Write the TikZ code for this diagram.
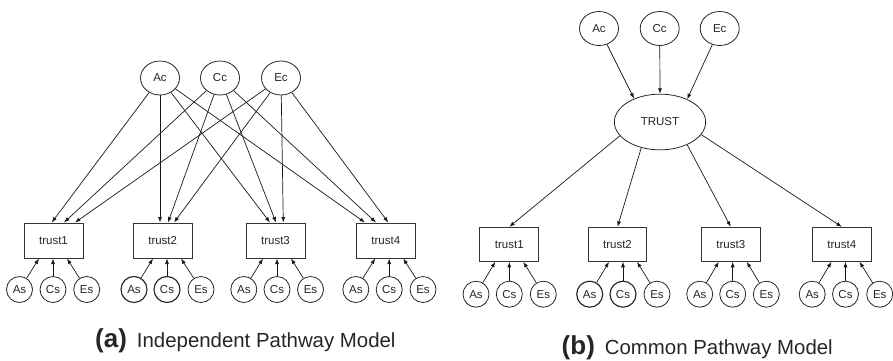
\documentclass[tikz,border=0pt]{standalone}
\usepackage{fontspec}
\setmainfont{Liberation Sans}
\usetikzlibrary{shapes.geometric,arrows.meta,calc}
\begin{document}
\begin{tikzpicture}[x=1pt,y=-1pt,
  every node/.style={font=\fontsize{11.5}{13}\selectfont, inner sep=0pt, text=black!85},
  lat/.style={draw=black!85, ellipse, line width=0.8pt, minimum width=39pt, minimum height=34pt},
  obs/.style={draw=black!80, rectangle, line width=1pt, minimum width=59pt, minimum height=35pt},
  res/.style={draw=black!85, circle, line width=0.8pt, minimum size=26pt},
  resb/.style={res, line width=1.15pt},
  edge/.style={draw=black!90, line width=0.7pt, -{Latex[length=5.5pt,width=4pt]}},
  captext/.style={anchor=base west, font=\fontsize{20.4}{24}\selectfont},
]
\useasboundingbox (0,0) rectangle (893,360);

% ---------- (a) independent pathway model ----------
\node[lat] (LAc) at (160,78) {Ac};
\node[lat] (LCc) at (220,78) {Cc};
\node[lat] (LEc) at (281,78) {Ec};

\node[obs] (L1) at (53.5,240.5) {trust1};
\node[obs] (L2) at (162.7,240.5) {trust2};
\node[obs] (L3) at (275.5,240.5) {trust3};
\node[obs] (L4) at (385.8,240.5) {trust4};

\draw[edge] (LAc) -- ([xshift=-1.8pt]L1.north);
\draw[edge] (LCc) -- ([xshift=10.5pt]L1.north);
\draw[edge] (LEc) -- ([xshift=21.5pt]L1.north);
\draw[edge] (LAc) -- ([xshift=-2.7pt]L2.north);
\draw[edge] (LCc) -- ([xshift=5.3pt]L2.north);
\draw[edge] (LEc) -- ([xshift=11.3pt]L2.north);
\draw[edge] (LAc) -- ([xshift=-5.5pt]L3.north);
\draw[edge] (LCc) -- ([xshift=0.5pt]L3.north);
\draw[edge] (LEc) -- ([xshift=7.8pt]L3.north);
\draw[edge] (LAc) -- ([xshift=-20.8pt]L4.north);
\draw[edge] (LCc) -- ([xshift=-9.8pt]L4.north);
\draw[edge] (LEc) -- ([xshift=2.5pt]L4.north);

\node[res]  (LA1) at (19.5,289.5) {As};
\node[res]  (LC1) at (53,289.5) {Cs};
\node[res]  (LE1) at (86.7,289.5) {Es};
\node[resb] (LA2) at (134,289.5) {As};
\node[resb] (LC2) at (167,289.5) {Cs};
\node[res]  (LE2) at (201,289.5) {Es};
\node[res]  (LA3) at (243.8,289.5) {As};
\node[res]  (LC3) at (277,289.5) {Cs};
\node[res]  (LE3) at (310.5,289.5) {Es};
\node[res]  (LA4) at (355.8,289.5) {As};
\node[res]  (LC4) at (389.2,289.5) {Cs};
\node[res]  (LE4) at (423,289.5) {Es};

\foreach \i in {1,2,3,4}{
  \draw[edge] (LA\i) -- ($(LC\i |- L\i.south)+(-14,0)$);
  \draw[edge] (LC\i) -- (LC\i |- L\i.south);
  \draw[edge] (LE\i) -- ($(LC\i |- L\i.south)+(14,0)$);
}

\node[captext] (capA) at (95,347)
  {{\fontsize{26}{28}\selectfont\bfseries (a)}\hspace{10pt}Independent Pathway Model};

% ---------- (b) common pathway model ----------
\node[lat] (RAc) at (599,28.5) {Ac};
\node[lat] (RCc) at (659.7,28.5) {Cc};
\node[lat] (REc) at (719.7,28.5) {Ec};

\node[lat, minimum width=91.3pt, minimum height=55.7pt] (TR) at (660,122) {TRUST};

\draw[edge] (RAc) -- (TR.138);
\draw[edge] (RCc) -- (TR.90);
\draw[edge] (REc) -- (TR.40);

\node[obs, minimum width=58.7pt, minimum height=34pt] (R1) at (509.3,244.3) {trust1};
\node[obs, minimum width=58.7pt, minimum height=34pt] (R2) at (617.5,244.3) {trust2};
\node[obs, minimum width=58.7pt, minimum height=34pt] (R3) at (730.8,244.3) {trust3};
\node[obs, minimum width=58.7pt, minimum height=34pt] (R4) at (841.8,244.3) {trust4};

\draw[edge] (TR.199) -- (R1.north);
\draw[edge] (TR.234) -- (R2.north);
\draw[edge] (TR.320) -- (R3.north);
\draw[edge] (TR.343) -- (R4.north);

\node[res]  (RA1) at (476,294.2) {As};
\node[res]  (RC1) at (509.3,294.2) {Cs};
\node[res]  (RE1) at (543.3,294.2) {Es};
\node[resb] (RA2) at (589.7,294.2) {As};
\node[resb] (RC2) at (623,294.2) {Cs};
\node[res]  (RE2) at (657,294.2) {Es};
\node[res]  (RA3) at (699.7,294.2) {As};
\node[res]  (RC3) at (732.7,294.2) {Cs};
\node[res]  (RE3) at (766.3,294.2) {Es};
\node[res]  (RA4) at (812.2,294.2) {As};
\node[res]  (RC4) at (845.5,294.2) {Cs};
\node[res]  (RE4) at (879.7,294.2) {Es};

\foreach \i in {1,2,3,4}{
  \draw[edge] (RA\i) -- ($(RC\i |- R\i.south)+(-14,0)$);
  \draw[edge] (RC\i) -- (RC\i |- R\i.south);
  \draw[edge] (RE\i) -- ($(RC\i |- R\i.south)+(14,0)$);
}

\node[captext] (capB) at (561.5,354)
  {{\fontsize{26}{28}\selectfont\bfseries (b)}\hspace{10pt}Common Pathway Model};
\end{tikzpicture}
\end{document}
